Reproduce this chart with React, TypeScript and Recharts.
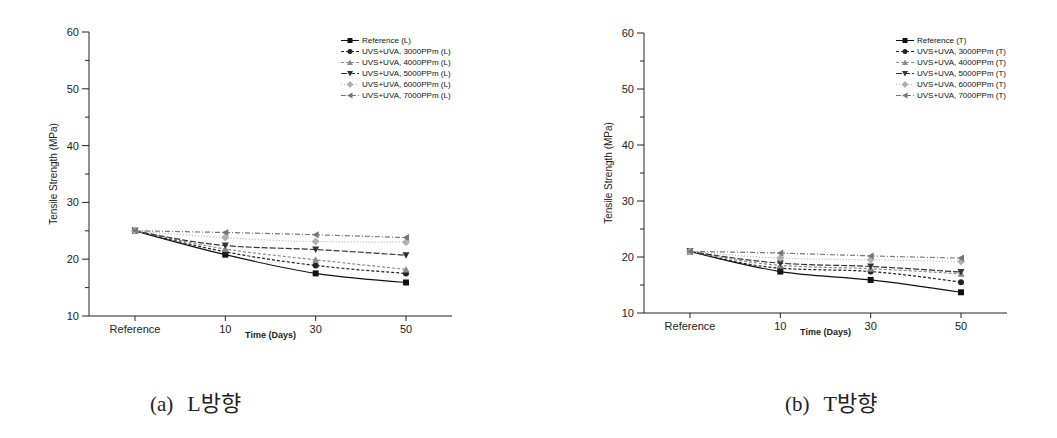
import { LineChart, Line, XAxis, YAxis, Legend, Label } from "recharts"

// x categories (ageing time)
const categories = ["Reference", "10", "30", "50"]

// L direction, tensile strength (MPa)
const refL = [25, 20.8, 17.5, 15.9]
const ppm3000L = [25, 21.3, 18.9, 17.5]
const ppm4000L = [25, 21.8, 19.9, 18.2]
const ppm5000L = [25, 22.4, 21.7, 20.7]
const ppm6000L = [25, 23.8, 23.1, 23.0]
const ppm7000L = [25, 24.7, 24.3, 23.8]

// T direction, tensile strength (MPa)
const refT = [21, 17.4, 15.9, 13.7]
const ppm3000T = [21, 18.0, 17.4, 15.5]
const ppm4000T = [21, 18.5, 17.9, 17.0]
const ppm5000T = [21, 18.9, 18.3, 17.3]
const ppm6000T = [21, 19.8, 19.5, 19.2]
const ppm7000T = [21, 20.7, 20.2, 19.8]

const yTicks = [10, 15, 20, 25, 30, 35, 40, 45, 50, 55, 60]

type Shape = "square" | "circle" | "up" | "down" | "diamond" | "left"

const seriesStyle: { key: string; name: string; color: string; dash?: string; shape: Shape }[] = [
  { key: "ref", name: "Reference", color: "#111", shape: "square" },
  { key: "p3000", name: "UVS+UVA, 3000PPm", color: "#222", dash: "3 2", shape: "circle" },
  { key: "p4000", name: "UVS+UVA, 4000PPm", color: "#8a8a8a", dash: "3 2", shape: "up" },
  { key: "p5000", name: "UVS+UVA, 5000PPm", color: "#333", dash: "6 2", shape: "down" },
  { key: "p6000", name: "UVS+UVA, 6000PPm", color: "#b0b0b0", dash: "1 2", shape: "diamond" },
  { key: "p7000", name: "UVS+UVA, 7000PPm", color: "#777", dash: "5 2 1 2", shape: "left" },
]

const FONT = "Arial, 'Liberation Sans', sans-serif"

function markerPath(shape: Shape, x: number, y: number, s: number) {
  const h = s / 2
  switch (shape) {
    case "square":
      return `M${x - h},${y - h}h${s}v${s}h${-s}Z`
    case "up":
      return `M${x},${y - h - 0.5}L${x + h + 0.5},${y + h}L${x - h - 0.5},${y + h}Z`
    case "down":
      return `M${x - h - 0.5},${y - h}L${x + h + 0.5},${y - h}L${x},${y + h + 0.5}Z`
    case "diamond":
      return `M${x},${y - h - 1}L${x + h + 1},${y}L${x},${y + h + 1}L${x - h - 1},${y}Z`
    case "left":
      return `M${x - h - 0.5},${y}L${x + h},${y - h - 0.5}L${x + h},${y + h + 0.5}Z`
    default:
      return ""
  }
}

function Marker({ shape, color, x, y, size = 6 }: { shape: Shape; color: string; x: number; y: number; size?: number }) {
  if (shape === "circle") return <circle cx={x} cy={y} r={size / 2} fill={color} />
  return <path d={markerPath(shape, x, y, size)} fill={color} />
}

function YTick({ x, y, payload }: any) {
  const major = payload.value % 10 === 0
  return (
    <g>
      <line x1={x - (major ? 7 : 4)} x2={x} y1={y} y2={y} stroke="#222" />
      {major && (
        <text x={x - 10} y={y} dy={4} textAnchor="end" fontSize={11} fill="#222" fontFamily={FONT}>
          {payload.value}
        </text>
      )}
    </g>
  )
}

function XTick({ x, y, payload }: any) {
  return (
    <g>
      <line x1={x} x2={x} y1={y} y2={y + 5} stroke="#222" />
      <text x={x} y={y + 17} textAnchor="middle" fontSize={11} fill="#222" fontFamily={FONT}>
        {payload.value}
      </text>
    </g>
  )
}

function LegendBox({ suffix }: { suffix: string }) {
  return (
    <div style={{ fontFamily: FONT, fontSize: 8, color: "#111", lineHeight: "11px" }}>
      {seriesStyle.map((s) => (
        <div key={s.key} style={{ display: "flex", alignItems: "center", height: 11 }}>
          <svg width={20} height={11} style={{ display: "block" }}>
            <line x1={1} x2={19} y1={5.5} y2={5.5} stroke={s.color} strokeDasharray={s.dash} />
            <Marker shape={s.shape} color={s.color} x={10} y={5.5} size={5} />
          </svg>
          <span style={{ marginLeft: 2, whiteSpace: "nowrap" }}>
            {s.name} ({suffix})
          </span>
        </div>
      ))}
    </div>
  )
}

function buildRows(values: number[][]) {
  return categories.map((c, i) => {
    const row: Record<string, string | number> = { cat: c }
    seriesStyle.forEach((s, j) => {
      row[s.key] = values[j][i]
    })
    return row
  })
}

function StrengthChart({
  values,
  suffix,
  marginTop,
  marginBottom,
}: {
  values: number[][]
  suffix: string
  marginTop: number
  marginBottom: number
}) {
  const data = buildRows(values)
  return (
    <LineChart
      width={460}
      height={345}
      data={data}
      margin={{ top: marginTop, right: 8, left: 39, bottom: marginBottom }}
    >
      <XAxis
        dataKey="cat"
        height={20}
        padding={{ left: 46, right: 46 }}
        tick={<XTick />}
        tickSize={0}
        tickMargin={0}
        tickLine={false}
        axisLine={{ stroke: "#222" }}
        interval={0}
      >
        <Label
          value="Time (Days)"
          position="insideBottom"
          offset={-2}
          style={{ fontSize: 9, fill: "#222", fontFamily: FONT, fontWeight: 600 }}
        />
      </XAxis>
      <XAxis
        xAxisId="top"
        dataKey="cat"
        orientation="top"
        height={0}
        tick={false}
        tickLine={false}
        axisLine={{ stroke: "#222" }}
      />
      <YAxis
        width={50}
        domain={[10, 60]}
        ticks={yTicks}
        interval={0}
        tick={<YTick />}
        tickSize={0}
        tickMargin={0}
        tickLine={false}
        axisLine={{ stroke: "#222" }}
      >
        <Label
          value="Tensile Strength (MPa)"
          angle={-90}
          position="insideLeft"
          offset={14}
          style={{ fontSize: 10, fill: "#222", fontFamily: FONT, textAnchor: "middle" }}
        />
      </YAxis>
      <YAxis
        yAxisId="right"
        orientation="right"
        width={0}
        domain={[10, 60]}
        tick={false}
        tickLine={false}
        axisLine={{ stroke: "#222" }}
      />
      <Legend
        layout="vertical"
        align="center"
        verticalAlign="middle"
        wrapperStyle={{ top: 35, left: 340, width: 115 }}
        content={() => <LegendBox suffix={suffix} />}
      />
      {seriesStyle.map((s) => (
        <Line
          key={s.key}
          dataKey={s.key}
          name={`${s.name} (${suffix})`}
          type="monotone"
          stroke={s.color}
          strokeWidth={1.2}
          strokeDasharray={s.dash}
          isAnimationActive={false}
          dot={(p: any) => <Marker key={`${s.key}-${p.index}`} shape={s.shape} color={s.color} x={p.cx} y={p.cy} />}
          activeDot={false}
        />
      ))}
    </LineChart>
  )
}

const captionStyle: React.CSSProperties = {
  position: "absolute",
  top: 390,
  fontFamily: "'Liberation Serif', 'Noto Sans CJK KR', serif",
  fontSize: 21,
  color: "#222",
  whiteSpace: "nowrap",
  lineHeight: "28px",
}

export default function App() {
  return (
    <div
      style={{
        position: "absolute",
        left: 0,
        top: 0,
        width: 1057,
        height: 438,
        background: "#fff",
        overflow: "hidden",
      }}
    >
      <div style={{ position: "absolute", left: 0, top: 0 }}>
        <StrengthChart
          values={[refL, ppm3000L, ppm4000L, ppm5000L, ppm6000L, ppm7000L]}
          suffix="L"
          marginTop={32}
          marginBottom={9}
        />
      </div>
      <div style={{ position: "absolute", left: 555, top: 0 }}>
        <StrengthChart
          values={[refT, ppm3000T, ppm4000T, ppm5000T, ppm6000T, ppm7000T]}
          suffix="T"
          marginTop={33}
          marginBottom={12}
        />
      </div>
      <div style={{ ...captionStyle, left: 150 }}>
        <span>(a)</span>
        <span style={{ marginLeft: 14, fontSize: 22 }}>L방향</span>
      </div>
      <div style={{ ...captionStyle, left: 785 }}>
        <span>(b)</span>
        <span style={{ marginLeft: 14, fontSize: 22 }}>T방향</span>
      </div>
    </div>
  )
}
